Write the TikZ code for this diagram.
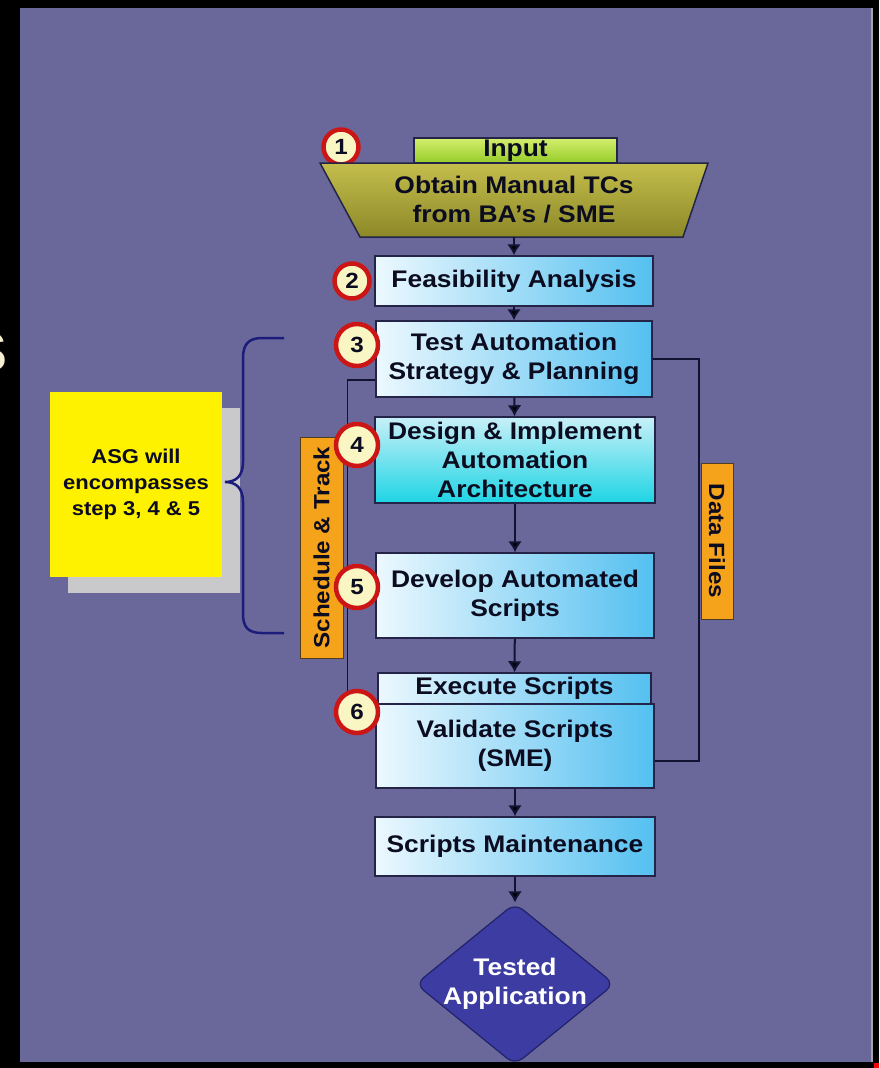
\documentclass[tikz,border=0pt]{standalone}
\usepackage{fontspec}
\setmainfont{Liberation Sans}[FakeStretch=1.1]
\usepackage{tikz}
\usetikzlibrary{shapes.geometric, arrows.meta, positioning}

\definecolor{slate}{RGB}{106,104,155}
\definecolor{inktext}{RGB}{12,12,32}
\definecolor{boxline}{RGB}{36,36,72}
\definecolor{flowline}{RGB}{18,18,50}
\definecolor{skyL}{RGB}{236,248,254}
\definecolor{skyR}{RGB}{84,192,240}
\definecolor{cyanT}{RGB}{200,240,248}
\definecolor{cyanB}{RGB}{30,212,228}
\definecolor{greenT}{RGB}{212,238,110}
\definecolor{greenB}{RGB}{150,204,40}
\definecolor{oliveT}{RGB}{196,190,76}
\definecolor{oliveB}{RGB}{140,136,40}
\definecolor{tagorange}{RGB}{246,163,28}
\definecolor{tagline}{RGB}{80,60,30}
\definecolor{badgered}{RGB}{204,22,22}
\definecolor{badgefill}{RGB}{250,246,196}
\definecolor{diamfill}{RGB}{60,60,162}
\definecolor{diamline}{RGB}{34,34,106}
\definecolor{bracenavy}{RGB}{28,28,122}
\definecolor{shadowgray}{RGB}{201,201,204}
\definecolor{cream}{RGB}{246,238,208}

\begin{document}
\begin{tikzpicture}[x=1pt,y=-1pt,>={Latex[length=11pt,width=14pt]},
        font=\bfseries\fontsize{24}{29}\selectfont,
        every node/.style={text=inktext, inner sep=0pt},
        stepbox/.style={draw=boxline, line width=1.5pt, align=center, left color=skyL, right color=skyR},
        numbadge/.style={circle, draw=badgered, line width=4.5pt, fill=badgefill, minimum size=40pt,
            font=\bfseries\fontsize{22}{22}\selectfont},
        tagbox/.style={draw=tagline, line width=1pt, fill=tagorange, font=\bfseries\fontsize{22}{22}\selectfont},
        flow/.style={->, draw=flowline, line width=2pt},
        track/.style={draw=flowline, line width=1.5pt}]

        \useasboundingbox (0,0) rectangle (879,1068);
        \fill[black] (0,0) rectangle (879,1068);
        \fill[slate] (20,8) rectangle (871,1062);
        \fill[gray!70] (871,8) rectangle (873,1062);
        \fill[red] (874,1063) rectangle (879,1068);
        \begin{scope}
            \clip (0,300) rectangle (20,420);
            \node[text=cream, font=\bfseries\fontsize{56}{56}\selectfont, anchor=east] (cut_s) at (8,352) {S};
        \end{scope}

        % step 1
        \node[numbadge, minimum size=35pt] (n_1) at (341,147) {1};
        \node[draw=boxline, line width=1.5pt, top color=greenT, bottom color=greenB,
            minimum width=203pt, minimum height=25pt] (input) at (515.5,150.5) {Input};
        \path[draw=boxline, line width=1.5pt, top color=oliveT, bottom color=oliveB]
            (320,163) -- (708,163) -- (683,237) -- (360,237) -- cycle;
        \node[minimum width=300pt, minimum height=74pt, align=center] (obtain) at (514,200) {Obtain Manual TCs\\from BA's / SME};

        % steps 2 to 6
        \node[stepbox, minimum width=278pt, minimum height=50pt] (feasibility) at (514,281) {Feasibility Analysis};
        \node[stepbox, minimum width=276pt, minimum height=76pt] (strategy) at (514,359) {Test Automation\\Strategy \& Planning};
        \node[stepbox, minimum width=280pt, minimum height=86pt, top color=cyanT, bottom color=cyanB]
            (design) at (515,460) {Design \& Implement\\Automation\\Architecture};
        \node[stepbox, minimum width=278pt, minimum height=85pt] (develop) at (515,595.5) {Develop Automated\\Scripts};
        \node[stepbox, minimum width=273pt, minimum height=31pt] (execute) at (514.5,688.5) {Execute Scripts};
        \node[stepbox, minimum width=278pt, minimum height=84pt] (validate) at (515,746) {Validate Scripts\\(SME)};
        \node[stepbox, minimum width=280pt, minimum height=59pt] (maintain) at (515,846.5) {Scripts Maintenance};
        \node[diamond, aspect=1.23, inner sep=-5pt, draw=diamline, line width=1.2pt, fill=diamfill,
            minimum width=199pt, minimum height=162pt, rounded corners=10pt, text=white, align=center]
            (tested) at (515,984) {Tested\\Application};

        % side tracks
        \draw[track] ([yshift=-21pt]strategy.west) -| ([xshift=-28pt,yshift=34pt]validate.west)
                    -- ([yshift=34pt]validate.west);
        \draw[track] (strategy.east) -| ([xshift=44pt,yshift=-15pt]validate.east)
                    -- ([yshift=-15pt]validate.east);
        \node[tagbox, rotate=90, minimum width=221pt, minimum height=43pt] (schedule) at (321.5,547.5) {Schedule \& Track};
        \node[tagbox, rotate=-90, minimum width=156pt, minimum height=32pt] (datafiles) at (717,541) {Data Files};

        \path[flow] (obtain) edge (feasibility)
                    (feasibility) edge (strategy)
                    (strategy) edge (design)
                    (design) edge (develop)
                    (develop) edge (execute)
                    (validate) edge (maintain)
                    (maintain) edge (tested);

        \node[numbadge, minimum size=35pt] (n_2) at (352,281) {2};
        \node[numbadge, minimum size=42pt] (n_3) at (357,345) {3};
        \node[numbadge, minimum size=42pt] (n_4) at (357,445) {4};
        \node[numbadge, minimum size=42pt] (n_5) at (357,587) {5};
        \node[numbadge, minimum size=42pt] (n_6) at (357,712) {6};

        % ASG note and brace
        \node[fill=shadowgray, minimum width=172pt, minimum height=185pt] (asg_shadow) at (154,500.5) {};
        \node[fill=yellow, minimum width=172pt, minimum height=185pt, align=center,
            font=\bfseries\fontsize{20}{26}\selectfont] (asg) at (136,484.5) {ASG will\\encompasses\\step 3, 4 \& 5};
        \draw[bracenavy, line width=2.5pt] (284,338) -- (262,338) .. controls (248,338) and (243,345) .. (243,358)
            -- (243,462) .. controls (243,476) and (236,482) .. (225,482)
            .. controls (236,482) and (243,488) .. (243,502)
            -- (243,614) .. controls (243,627) and (248,633) .. (262,633) -- (284,633);
    \end{tikzpicture}
\end{document}
